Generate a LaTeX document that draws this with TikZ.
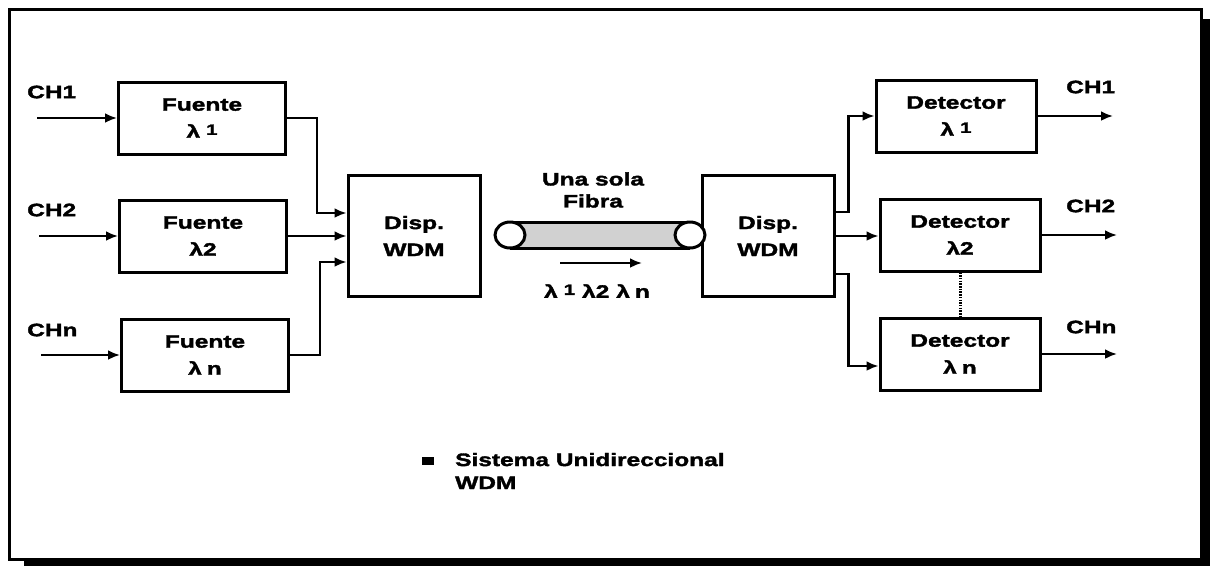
\documentclass[tikz,border=0pt]{standalone}
\usepackage{fontspec}
\setmainfont[FakeStretch=1.36,BoldFeatures={FakeBold=2}]{Liberation Sans}
\usepackage{tikz}
\usetikzlibrary{arrows.meta}
\usetikzlibrary{positioning}

\newcommand{\lamone}{λ\hspace{6pt}\raisebox{.3ex}{\fontsize{15}{15}\selectfont 1}}
\newcommand{\lamn}{λ\hspace{5pt}n}

\begin{document}
\begin{tikzpicture}[
  x=1pt, y=-1pt,
  every node/.style={font=\fontsize{18}{27}\selectfont\bfseries},
  block/.style={draw,line width=3pt,align=center,inner sep=0pt},
  src/.style={block,minimum width=167pt,minimum height=72pt},
  det/.style={block,minimum width=160pt,minimum height=72pt},
  disp/.style={block,minimum width=132pt,minimum height=121pt},
  link/.style={line width=2.6pt,-{Latex[length=12pt,width=10pt]}},
  chan/.style={anchor=west,inner sep=0pt}
]
\useasboundingbox (0,0) rectangle (1210,566);
\fill (24,19) rectangle (1210,566);
\draw[line width=3pt,fill=white] (9,9) rectangle (1201,559);

\node[src] (f1) at (202,118) {Fuente\\\lamone};
\node[src] (f2) at (203,236) {Fuente\\λ2};
\node[src] (fn) at (205,355) {Fuente\\\lamn};
\node[disp] (dl) at (414,236) {Disp.\\WDM};
\node[disp] (dr) at (768,236) {Disp.\\WDM};
\node[det] (d1) at (956,116) {Detector\\\lamone};
\node[det] (d2) at (960,235) {Detector\\λ2};
\node[det] (dn) at (960,354) {Detector\\\lamn};

\node[chan] (ch1) at (27,92) {CH1};
\node[chan] (ch2) at (27,210) {CH2};
\node[chan] (chn) at (27,330) {CHn};
\node[chan] (och1) at (1066,87) {CH1};
\node[chan] (och2) at (1066,206) {CH2};
\node[chan] (ochn) at (1066,327) {CHn};

\coordinate (in1) at (37,118);
\coordinate (in2) at (39,236);
\coordinate (inn) at (41,355);
\coordinate (out1) at (1113,116);
\coordinate (out2) at (1117,235);
\coordinate (outn) at (1117,354);

\draw[link] (in1) -- (f1.west);
\draw[link] (in2) -- (f2.west);
\draw[link] (inn) -- (fn.west);
\draw[link] (f1.east) -- ++(30,0) |- ([yshift=23pt]dl.west);
\draw[link] (f2.east) -- (f2.east -| dl.west);
\draw[link] (fn.east) -- ++(30,0) |- ([yshift=-26pt]dl.west);

\draw[link] ([yshift=24pt]dr.east) -- ++(13,0) |- (d1.west);
\draw[link] (dr.east) -- (dr.east -| d2.west);
\draw[link] ([yshift=-38pt]dr.east) -- ++(13,0) |- ([yshift=-12pt]dn.west);
\draw[link] (d1.east) -- (out1);
\draw[link] (d2.east) -- (out2);
\draw[link] (dn.east) -- (outn);
\draw[line width=3pt,dash pattern=on 1.5pt off 1.2pt] (d2.south) -- (dn.north);

\fill[black!18] (510,222) rectangle (690,248);
\draw[line width=3pt] (510,222) -- (690,222) (510,248) -- (690,248);
\draw[line width=3pt,fill=white] (510,235) ellipse [x radius=15, y radius=13];
\draw[line width=3pt,fill=white] (690,235) ellipse [x radius=15, y radius=13];
\node[align=center,font=\fontsize{18}{22}\selectfont\bfseries] (fib) at (593,190) {Una sola\\Fibra};
\coordinate (fa) at (560,263);
\coordinate (fb) at (642,263);
\draw[link] (fa) -- (fb);
\node (lams) at (597,291) {\lamone\hspace{7pt}λ2\hspace{7pt}\lamn};

\node[fill,minimum width=12pt,minimum height=8pt,inner sep=0pt] (bul) at (428,461) {};
\node[anchor=west,align=left,inner sep=0pt,font=\fontsize{18}{23}\selectfont\bfseries] (leg) at (455,471) {Sistema Unidireccional\\WDM};
\end{tikzpicture}
\end{document}
